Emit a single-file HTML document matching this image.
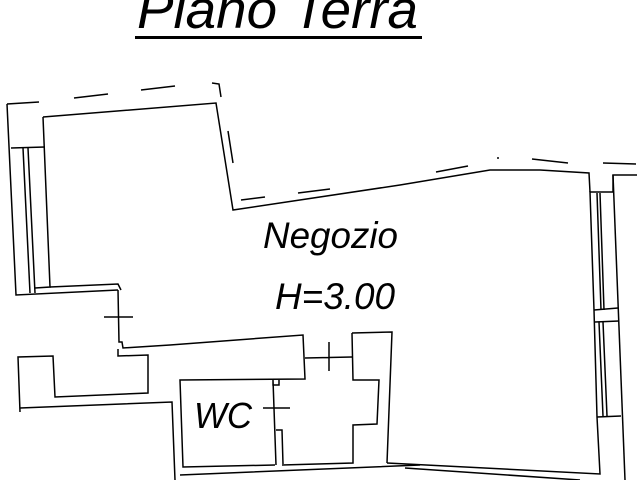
<!DOCTYPE html>
<html><head><meta charset="utf-8"><style>
html,body{margin:0;padding:0;background:#fff;}
svg{display:block;}
text{font-family:"Liberation Sans",sans-serif;font-style:italic;fill:#000;}
</style></head><body>
<svg width="640" height="480" viewBox="0 0 640 480" xmlns="http://www.w3.org/2000/svg">
<text x="137" y="28" font-size="54" textLength="281" lengthAdjust="spacingAndGlyphs">Piano Terra</text>
<rect x="135" y="36" width="287" height="3" fill="#000"/>
<g fill="none" stroke="#000" stroke-width="1.5">
<path d="M7,104 L39,102 M74,98 L108,94 M141,90 L175,86 M212,83 L219,84 L221,97"/>
<path d="M228,131 L233,163 M241,200 L265,197 M298,193 L330,189"/>
<path d="M436,172 L468,166 M497,158 L499,158 M532,159 L568,163 M603,163 L636,164"/>
<path d="M43,117 L216,103 L233,210 L400,185 L490,170 L540,170 L589,173 L590,192"/>
<path d="M613,192 L613,175 L637,175"/>
<path d="M7,104 L16,295 L118,290"/>
<path d="M11,148 L45,147"/>
<path d="M23,148 L30,293 M28,148 L35,293"/>
<path d="M43,117 L50,287 L35,288"/>
<path d="M50,287 L118,284 L121,290"/>
<path d="M118,290 L119,342 L122,342 L123,348 L170,345 L303,335 L305,379 L180,380 L183,467 L275,465"/>
<path d="M104,317 L133,317"/>
<path d="M118,349 L118,356 L148,355 L148,393 L55,397 L53,356 L18,357 L20,412"/>
<path d="M20,408 L172,402 L175,480"/>
<path d="M305,358 L352,357 M329,342 L329,371"/>
<path d="M352,333 L392,332 L387,463 M352,333 L353,380 L379,380 L377,424 L353,425 L353,463 L282,465"/>
<path d="M273,380 L276,465 M273,380 L273,385 L279,385 L279,380 M276,430 L282,430 L283,464 M263,408 L290,408"/>
<path d="M180,475 L420,465 M387,463 L600,474 L597,417 L594,310 L590,192 L613,192 M405,468 L580,480"/>
<path d="M613,175 L625,480"/>
<path d="M597,193 L601,310 M600,193 L604,310"/>
<path d="M594,310 L618,308 M595,322 L619,321"/>
<path d="M599,322 L603,416 M603,322 L607,416 M597,417 L621,416"/>
</g>
<text x="263" y="248" font-size="37" textLength="135" lengthAdjust="spacingAndGlyphs">Negozio</text>
<text x="275" y="309" font-size="37" textLength="120" lengthAdjust="spacingAndGlyphs">H=3.00</text>
<text x="194" y="428" font-size="36" textLength="58" lengthAdjust="spacingAndGlyphs">WC</text>
</svg>
</body></html>
